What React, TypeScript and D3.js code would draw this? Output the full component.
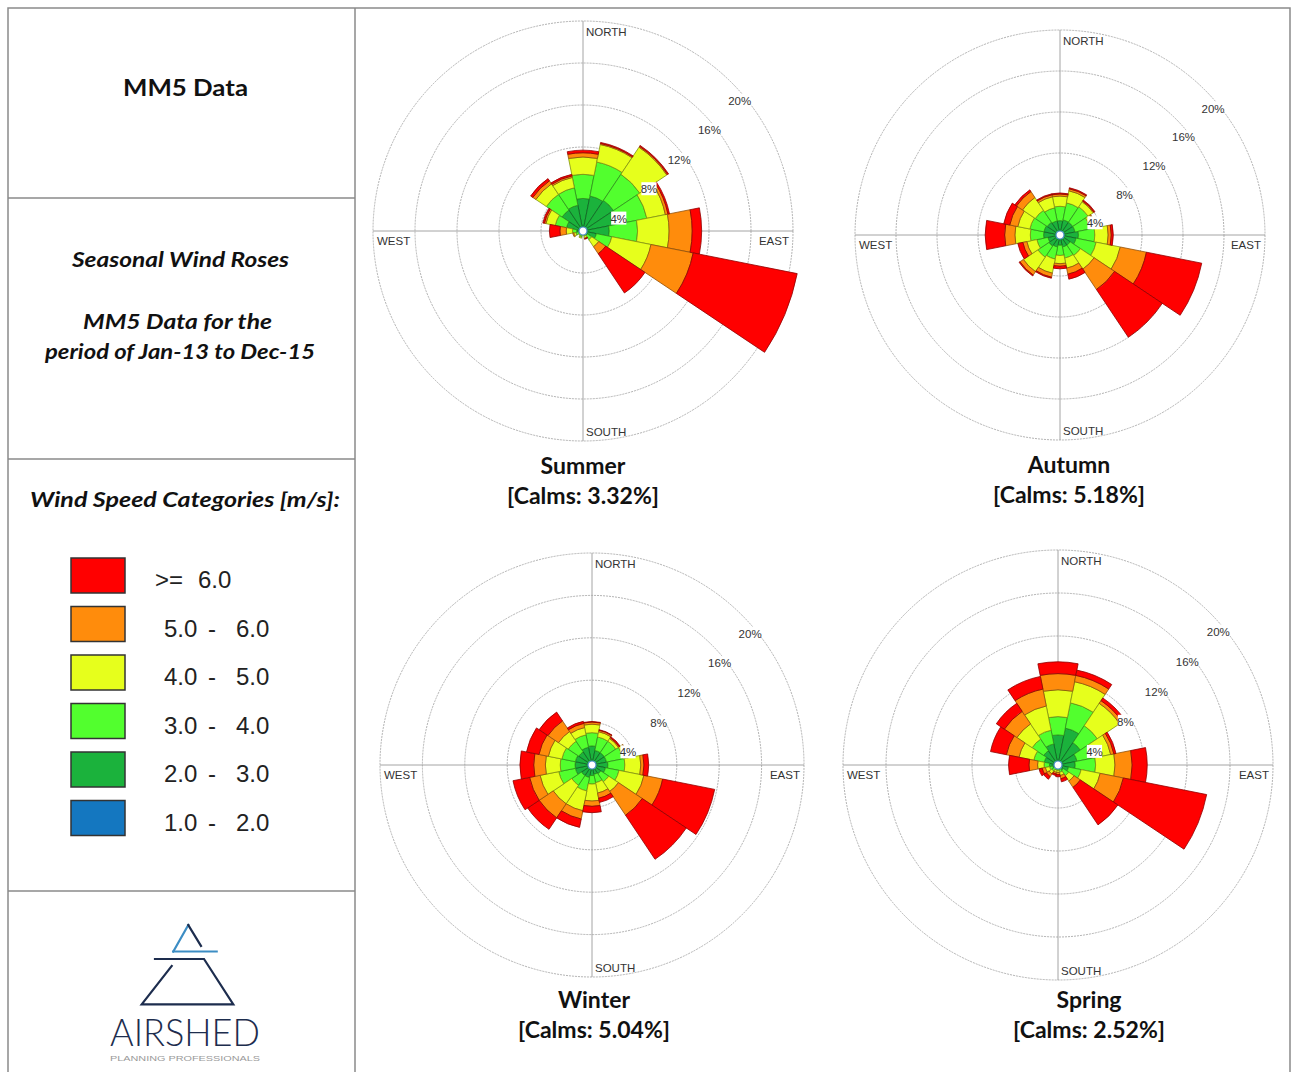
import React from "react";
import * as d3 from "d3";

// ---------- data ----------
const directions = ["N", "NNE", "NE", "ENE", "E", "ESE", "SE", "SSE", "S", "SSW", "SW", "WSW", "W", "WNW", "NW", "NNW"];
const speedBins = ["1.0 - 2.0", "2.0 - 3.0", "3.0 - 4.0", "4.0 - 5.0", "5.0 - 6.0", ">= 6.0"];
const legendLabels = [">= 6.0", "5.0 - 6.0", "4.0 - 5.0", "3.0 - 4.0", "2.0 - 3.0", "1.0 - 2.0"];
const binColors = ["#1477C0", "#1BB23C", "#52FF2E", "#E6FF1C", "#FF8C0C", "#FF0000"];
const ringTicks = [4, 8, 12, 16, 20];

// frequency (%) per direction, columns = speedBins
const summerFreq = [
  [0.2, 2.9, 2.3, 1.65, 0.4, 0.25],
  [0.2, 3.2, 3.3, 1.7, 0.1, 0.1],
  [0.2, 3.3, 3.0, 3.1, 0.1, 0.1],
  [0.2, 3.1, 2.9, 1.8, 0.25, 0.15],
  [0.2, 2.3, 2.7, 3.0, 2.2, 0.9],
  [0.2, 1.1, 1.5, 3.8, 4.1, 10.1],
  [0.1, 0.4, 0.5, 0.8, 0.8, 4.5],
  [0.1, 0.2, 0.2, 0.2, 0.05, 0.05],
  [0.1, 0.1, 0.1, 0.1, 0, 0],
  [0.1, 0.3, 0.2, 0.1, 0, 0],
  [0.1, 0.2, 0.15, 0.05, 0, 0],
  [0.1, 0.3, 0.3, 0.2, 0.1, 0],
  [0.1, 0.5, 0.4, 0.6, 0.6, 1.0],
  [0.2, 1.4, 1.1, 0.9, 0.15, 0.15],
  [0.2, 2.2, 1.8, 1.2, 0.35, 0.25],
  [0.2, 2.3, 1.7, 1.0, 0.15, 0.15],
];
const autumnFreq = [
  [0.2, 1.2, 1.4, 1.0, 0.2, 0.1],
  [0.2, 1.3, 1.7, 1.2, 0.2, 0.1],
  [0.2, 1.3, 1.8, 0.6, 0.1, 0.1],
  [0.2, 1.3, 1.5, 0.5, 0.1, 0],
  [0.2, 1.6, 1.6, 1.3, 0.3, 0.2],
  [0.2, 1.4, 2.0, 2.4, 2.6, 5.5],
  [0.2, 1.0, 1.2, 1.6, 2.4, 5.6],
  [0.2, 1.0, 1.1, 1.0, 0.6, 0.5],
  [0.2, 0.8, 1.0, 0.8, 0.25, 0.25],
  [0.2, 1.0, 1.2, 1.4, 0.4, 0.1],
  [0.2, 1.1, 1.3, 1.7, 0.4, 0.1],
  [0.2, 1.0, 1.1, 1.0, 0.4, 0.5],
  [0.2, 1.4, 1.3, 1.5, 1.0, 1.9],
  [0.2, 1.4, 1.4, 1.2, 0.8, 0.6],
  [0.2, 1.3, 1.4, 1.5, 0.7, 0.2],
  [0.2, 1.2, 1.3, 1.1, 0.2, 0.1],
];
const winterFreq = [
  [0.2, 1.6, 1.25, 0.8, 0.2, 0.05],
  [0.2, 1.2, 1.3, 0.5, 0.15, 0.05],
  [0.2, 1.2, 1.3, 0.3, 0.1, 0.1],
  [0.2, 1.2, 1.6, 0.4, 0.1, 0],
  [0.2, 1.3, 1.6, 1.5, 0.3, 0.45],
  [0.2, 1.1, 1.3, 2.4, 1.8, 5.0],
  [0.2, 0.8, 0.9, 1.1, 2.7, 5.0],
  [0.2, 0.7, 0.8, 1.0, 0.5, 0.4],
  [0.2, 0.8, 0.8, 1.6, 0.5, 0.6],
  [0.2, 1.0, 1.3, 1.9, 0.8, 0.8],
  [0.2, 1.0, 1.1, 2.1, 1.6, 1.3],
  [0.2, 1.4, 1.6, 1.8, 1.0, 1.6],
  [0.2, 1.4, 1.4, 1.4, 1.1, 1.3],
  [0.2, 1.4, 1.3, 1.3, 0.9, 1.2],
  [0.2, 1.3, 1.2, 1.1, 1.2, 1.0],
  [0.2, 1.5, 1.2, 0.7, 0.4, 0.2],
];
const springFreq = [
  [0.2, 2.6, 1.7, 2.5, 1.5, 1.1],
  [0.2, 3.3, 2.4, 2.0, 0.6, 0.5],
  [0.2, 2.3, 1.9, 2.5, 0.3, 0.3],
  [0.2, 1.6, 1.5, 1.7, 0.3, 0.2],
  [0.2, 1.4, 1.9, 1.8, 1.6, 1.4],
  [0.2, 0.8, 1.2, 1.8, 2.2, 7.9],
  [0.1, 0.5, 0.6, 0.6, 0.7, 4.2],
  [0.1, 0.3, 0.3, 0.3, 0.3, 0.3],
  [0.1, 0.2, 0.2, 0.2, 0.2, 0.2],
  [0.1, 0.2, 0.2, 0.2, 0.15, 0.15],
  [0.1, 0.3, 0.3, 0.3, 0.3, 0.3],
  [0.1, 0.4, 0.3, 0.4, 0.3, 0.3],
  [0.1, 0.7, 0.5, 0.6, 0.8, 1.9],
  [0.2, 1.1, 1.0, 1.4, 1.2, 1.5],
  [0.2, 1.4, 1.3, 1.7, 1.4, 0.9],
  [0.2, 1.8, 1.3, 2.3, 1.6, 1.2],
];

const seasonNames = ["Summer", "Autumn", "Winter", "Spring"];
const seasonCalms = ["[Calms: 3.32%]", "[Calms: 5.18%]", "[Calms: 5.04%]", "[Calms: 2.52%]"];
const seasonFreqs = [summerFreq, autumnFreq, winterFreq, springFreq];

// ---------- layout ----------
const roseLayout = [
  { cx: 583, cy: 231, r: 210, tx: 583, ty: 474 },
  { cx: 1060, cy: 235, r: 205, tx: 1069, ty: 473 },
  { cx: 592, cy: 765, r: 212, tx: 594, ty: 1008 },
  { cx: 1058, cy: 765, r: 215, tx: 1089, ty: 1008 },
];

const SANS = "'Liberation Sans', Arial, sans-serif";
const TITLE = "Lato, 'Open Sans', sans-serif";

function Rose({ idx }: { idx: number }) {
  const lay = roseLayout[idx];
  const freq = seasonFreqs[idx];
  const rows = freq.map((v, i) => {
    const o: any = { dir: directions[i] };
    speedBins.forEach((b, k) => (o[b] = v[k]));
    return o;
  });
  const series = d3.stack<any>().keys(speedBins)(rows);
  const rScale = d3.scaleLinear().domain([0, 20]).range([0, lay.r]);
  const step = (2 * Math.PI) / directions.length;
  const arc = d3.arc<any>();
  const { cx, cy, r } = lay;
  return (
    <g>
      {ringTicks.map((t) => (
        <circle key={t} cx={cx} cy={cy} r={rScale(t)} fill="none" stroke="#a9a9a9" strokeWidth={0.9} strokeDasharray="2,1" />
      ))}
      <line x1={cx - r} x2={cx + r} y1={cy} y2={cy} stroke="#9a9a9a" strokeWidth={0.9} />
      <line x1={cx} x2={cx} y1={cy - r} y2={cy + r} stroke="#9a9a9a" strokeWidth={0.9} />
      <g transform={`translate(${cx},${cy})`}>
        {series.map((s, k) =>
          s.map((d, i) =>
            d[1] - d[0] > 0 ? (
              <path
                key={`${k}-${i}`}
                d={arc({
                  innerRadius: rScale(d[0]),
                  outerRadius: rScale(d[1]),
                  startAngle: i * step - step / 2,
                  endAngle: i * step + step / 2,
                }) as string}
                fill={binColors[k]}
                stroke={d3.color(binColors[k])!.darker(1.6).formatHex()}
                strokeWidth={0.8}
              />
            ) : null
          )
        )}
        <circle r={4} fill="#fff" stroke="#4a90c8" strokeWidth={1.2} />
      </g>
      {ringTicks.map((t) => {
        const x = cx + 0.72 * rScale(t) + 5.5;
        const y = cy - 0.7 * rScale(t) + 17;
        const label = `${t}%`;
        const w = label.length * 6.6;
        return (
          <g key={"l" + t}>
            <rect x={x - w / 2 - 1} y={y - 7} width={w + 2} height={13} fill="#fff" />
            <text x={x} y={y} dy="0.35em" textAnchor="middle" fontSize={11.5} fill="#333" fontFamily={SANS}>
              {label}
            </text>
          </g>
        );
      })}
      <text x={cx + 3} y={cy - r + 15} fontSize={11.5} fill="#333" fontFamily={SANS}>NORTH</text>
      <text x={cx + 3} y={cy + r - 5} fontSize={11.5} fill="#333" fontFamily={SANS}>SOUTH</text>
      <text x={cx - r + 4} y={cy + 14} fontSize={11.5} fill="#333" fontFamily={SANS}>WEST</text>
      <text x={cx + r - 4} y={cy + 14} textAnchor="end" fontSize={11.5} fill="#333" fontFamily={SANS}>EAST</text>
      <text x={lay.tx} y={lay.ty} textAnchor="middle" fontSize={23} fontWeight={700} fill="#111" fontFamily={TITLE}>
        {seasonNames[idx]}
      </text>
      <text x={lay.tx} y={lay.ty + 30} textAnchor="middle" fontSize={22} fontWeight={700} fill="#111" fontFamily={TITLE}
        textLength={152} lengthAdjust="spacingAndGlyphs">
        {seasonCalms[idx]}
      </text>
    </g>
  );
}

function Legend() {
  return (
    <g>
      {legendLabels.map((lab, i) => {
        const y = 558 + i * 48.5;
        const col = binColors[binColors.length - 1 - i];
        const parts = lab.split(/\s+/);
        const xs = parts.length === 2 ? [155, 198] : [164, 208, 236];
        return (
          <g key={lab}>
            <rect x={71} y={y} width={54} height={35} fill={col} stroke="#333" strokeWidth={1.5} />
            <text y={y + 30} fontSize={24} fill="#222" fontFamily={SANS}>
              {parts.map((p, j) => (
                <tspan key={j} x={xs[j]}>{p}</tspan>
              ))}
            </text>
          </g>
        );
      })}
    </g>
  );
}

function Logo() {
  const navy = "#1D2D4E";
  const blue = "#3C8DC4";
  return (
    <g fill="none" strokeWidth={2.2} strokeLinecap="square">
      <path d="M188.3,925 L173.3,951.5" stroke={blue} />
      <path d="M188.3,925 L201,946" stroke={navy} />
      <path d="M173.3,951.5 L216.7,951.5" stroke={blue} />
      <path d="M155,959 L204,959 L233.3,1004.3 L141.7,1004.3 L171.7,966" stroke={navy} />
      <text x={185} y={1046} textAnchor="middle" fontSize={37} fill={navy} stroke="none" fontFamily="Lato, sans-serif" fontWeight={300} textLength={150} lengthAdjust="spacingAndGlyphs">
        AIRSHED
      </text>
      <text x={185} y={1061} textAnchor="middle" fontSize={8} fill="#9a9a9a" stroke="none" fontFamily={SANS} textLength={150} lengthAdjust="spacingAndGlyphs">
        PLANNING PROFESSIONALS
      </text>
    </g>
  );
}

export default function App() {
  return (
    <svg width={1295} height={1072} style={{ position: "absolute", left: 0, top: 0, background: "#fff" }}>
      <rect x={0} y={0} width={1295} height={1072} fill="#fff" />
      {/* borders */}
      <g stroke="#8a8a8a" strokeWidth={1.5} fill="none">
        <rect x={8} y={8} width={1282} height={1080} />
        <line x1={355} x2={355} y1={8} y2={1072} />
        <line x1={8} x2={355} y1={198} y2={198} />
        <line x1={8} x2={355} y1={459} y2={459} />
        <line x1={8} x2={355} y1={891} y2={891} />
      </g>
      <g fontFamily={TITLE} fill="#111" textAnchor="middle" fontWeight={700}>
        <text x={185.5} y={96} fontSize={23} textLength={125} lengthAdjust="spacingAndGlyphs">MM5 Data</text>
        <text x={180.5} y={267} fontSize={21} fontStyle="italic" textLength={217} lengthAdjust="spacingAndGlyphs">Seasonal Wind Roses</text>
        <text x={177.5} y={329} fontSize={21} fontStyle="italic" textLength={189} lengthAdjust="spacingAndGlyphs">MM5 Data for the</text>
        <text x={180} y={359} fontSize={21} fontStyle="italic" textLength={270} lengthAdjust="spacingAndGlyphs">period of Jan-13 to Dec-15</text>
        <text x={185} y={507} fontSize={21} fontStyle="italic" textLength={310} lengthAdjust="spacingAndGlyphs">Wind Speed Categories [m/s]:</text>
      </g>
      <Legend />
      <Logo />
      {roseLayout.map((_, i) => (
        <Rose key={i} idx={i} />
      ))}
    </svg>
  );
}
